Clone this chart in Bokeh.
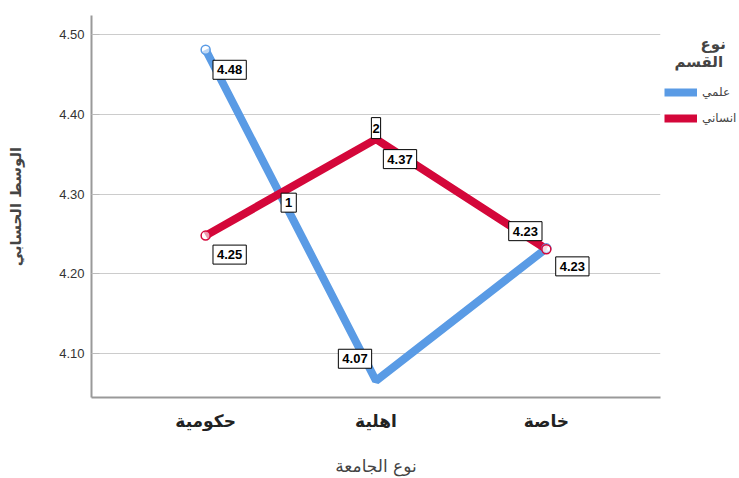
from bokeh.plotting import figure
from bokeh.models import Label, Legend, LegendItem, FixedTicker, NumeralTickFormatter, Range1d
from bokeh.embed import file_html
from bokeh.resources import INLINE

categories = ["حكومية", "اهلية", "خاصة"]
series_names = ["علمي", "انساني"]
legend_title = ["نوع", "القسم"]
sci = [4.481, 4.066, 4.232]
hum = [4.248, 4.369, 4.231]
y_ticks = [4.10, 4.20, 4.30, 4.40, 4.50]

BLUE = "#5A9BE5"
RED = "#D4073A"
xs = [1, 2, 3]

p = figure(frame_width=569, frame_height=382, output_backend="svg", toolbar_location=None,
           x_range=Range1d(0.33, 3.67), y_range=Range1d(4.045, 4.524),
           min_border_left=91, min_border_top=15, min_border_bottom=73, min_border_right=0)
p.outline_line_color = None
p.background_fill_color = "white"

r_sci = p.line(xs, sci, line_color=BLUE, line_width=8)
r_hum = p.line(xs, hum, line_color=RED, line_width=8)
for ys, c in ((sci, BLUE), (hum, RED)):
    p.scatter([xs[0], xs[-1]], [ys[0], ys[-1]], size=9, fill_color="white", fill_alpha=0.6,
              line_color=c, line_width=1.5)

box = dict(text_font="Liberation Sans", text_font_style="bold", text_font_size="13px",
           text_color="black", text_align="center", text_baseline="middle",
           border_line_color="black", border_line_width=1, background_fill_color="white",
           padding=dict(left=4, right=4, top=5, bottom=5))

sci_off = [(24, -20), (-21, 22), (26, -18)]
hum_off = [(24, -19), (24, -20), (-21, 18)]
for ys, offs in ((sci, sci_off), (hum, hum_off)):
    for x, y, (dx, dy) in zip(xs, ys, offs):
        p.add_layout(Label(x=x, y=y, text=f"{y:.2f}", x_offset=dx, y_offset=dy, **box))

# line labels: "1" at crossing of the two lines, "2" at the humanities peak
d0 = sci[0] - hum[0]
d1 = sci[1] - hum[1]
t = d0 / (d0 - d1)
xc = xs[0] + t * (xs[1] - xs[0])
yc = sci[0] + t * (sci[1] - sci[0])
p.add_layout(Label(x=xc, y=yc, text="1", x_offset=9, y_offset=-9, **box))
p.add_layout(Label(x=xs[1], y=hum[1], text="2", x_offset=0, y_offset=11,
                   **{**box, "padding": dict(left=1, right=1, top=6, bottom=6)}))

p.xaxis.ticker = FixedTicker(ticks=xs)
p.xaxis.major_label_overrides = {x: c for x, c in zip(xs, categories)}
p.xaxis.major_tick_line_color = None
p.xaxis.minor_tick_line_color = None
p.xaxis.major_label_standoff = 7
p.xaxis.major_label_text_font = "DejaVu Sans"
p.xaxis.major_label_text_font_style = "bold"
p.xaxis.major_label_text_font_size = "17px"
p.xaxis.major_label_text_color = "#222222"
p.xaxis.axis_label = "نوع الجامعة"
p.xaxis.axis_label_text_font = "DejaVu Sans"
p.xaxis.axis_label_text_font_style = "normal"
p.xaxis.axis_label_text_font_size = "17px"
p.xaxis.axis_label_standoff = 22
p.xaxis.axis_line_color = "#999999"
p.xaxis.axis_line_width = 2

p.yaxis.ticker = FixedTicker(ticks=y_ticks)
p.yaxis.formatter = NumeralTickFormatter(format="0.00")
p.yaxis.major_tick_in = 8
p.yaxis.major_tick_out = 0
p.yaxis.major_tick_line_color = "#bbbbbb"
p.yaxis.minor_tick_line_color = None
p.yaxis.major_label_standoff = 7
p.yaxis.major_label_text_font = "Liberation Sans"
p.yaxis.major_label_text_font_size = "13px"
p.yaxis.major_label_text_color = "#333333"
p.yaxis.axis_label = "الوسط الحسابي"
p.yaxis.axis_label_text_font = "DejaVu Sans"
p.yaxis.axis_label_text_font_style = "bold"
p.yaxis.axis_label_text_font_size = "15px"
p.yaxis.axis_label_standoff = 31
p.yaxis.axis_line_color = "#999999"
p.yaxis.axis_line_width = 2

p.xgrid.grid_line_color = None
p.ygrid.ticker = FixedTicker(ticks=y_ticks)
p.ygrid.grid_line_color = "#cccccc"
p.ygrid.grid_line_width = 1

NB = "\u00a0"
title_text = NB * 7 + legend_title[0] + "\n" + NB * 2 + legend_title[1]

legend = Legend(items=[LegendItem(label=series_names[0], renderers=[r_sci]),
                       LegendItem(label=series_names[1], renderers=[r_hum])],
                title=title_text, location=(4, 272),
                title_text_font="DejaVu Sans", title_text_font_style="bold",
                title_text_font_size="15px", title_standoff=14,
                label_text_font="DejaVu Sans", label_text_font_size="12px",
                glyph_width=33, glyph_height=14, spacing=12, padding=2, margin=0,
                border_line_color=None, background_fill_color=None)
p.add_layout(legend, "right")

open("out.html", "w").write(file_html(p, INLINE))
